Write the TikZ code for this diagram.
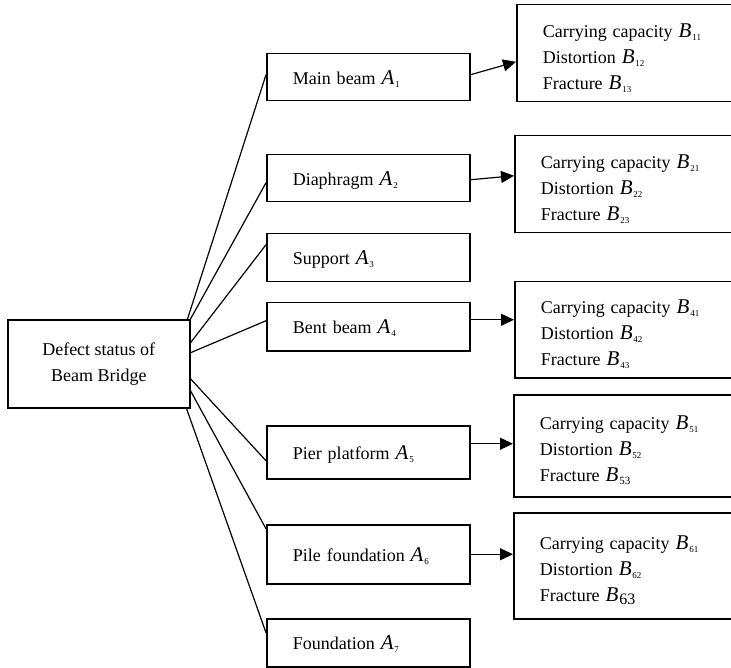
\documentclass[tikz,border=0pt]{standalone}
\usepackage{fontspec}
\setmainfont{Liberation Serif}
\usepackage{tikz}
\usetikzlibrary{arrows.meta,positioning,calc}
% italic letter with a small, lowered index
\newcommand\sym[3][4.5]{{\fontsize{10.5}{13}\selectfont\itshape #2}\kern0.4pt\raisebox{-1.5pt}{\fontsize{#1}{#1}\selectfont #3}}
\tikzset{
	status box/.style={draw, line width=0.75pt, anchor=north west, align=center,
		minimum width=91pt, minimum height=44pt, inner sep=0pt},
	part box/.style={draw, line width=0.75pt, anchor=north west, align=left,
		text width=75.5pt, inner xsep=13pt, inner ysep=0pt,
		text height=7pt, text depth=0pt, minimum height=#1},
	defect box/.style={draw, line width=0.75pt, anchor=north west, align=left,
		text width=100pt, inner xsep=13pt, inner ysep=0pt,
		text height=12pt, text depth=28pt, minimum height=#1},
	link/.style={line width=0.6pt},
	ar/.style={line width=0.6pt, -{Triangle[length=6.5pt,width=6pt]}}
}
\begin{document}
\begin{tikzpicture}[x=0.5pt,y=-0.5pt,every node/.style={font=\fontsize{9}{13}\selectfont}]
	\useasboundingbox (0,0) rectangle (731,667);
	\clip (0,0) rectangle (731,667);
	\node [status box] (root) at (7,319) {Defect status of\\Beam Bridge};
	\node [part box=23.5pt] (A1) at (266,53) {Main beam \sym{A}{1}};
	\node [part box=23.5pt] (A2) at (266,154) {Diaphragm \sym{A}{2}};
	\node [part box=24pt] (A3) at (266,233) {Support \sym{A}{3}};
	\node [part box=24pt] (A4) at (266,302) {Bent beam \sym{A}{4}};
	\node [part box=26.5pt] (A5) at (266,425) {Pier platform \sym{A}{5}};
	\node [part box=29.5pt] (A6) at (266,524) {Pile foundation \sym{A}{6}};
	\node [part box=24pt] (A7) at (266,618) {Foundation \sym{A}{7}};
	\node [defect box=48.5pt] (B1) at (516,4) {Carrying capacity \sym{B}{11}\\Distortion \sym{B}{12}\\Fracture \sym{B}{13}};
	\node [defect box=48.5pt] (B2) at (514,135) {Carrying capacity \sym{B}{21}\\Distortion \sym{B}{22}\\Fracture \sym{B}{23}};
	\node [defect box=48pt] (B4) at (514,281) {Carrying capacity \sym{B}{41}\\Distortion \sym{B}{42}\\Fracture \sym{B}{43}};
	\node [defect box=51pt] (B5) at (513,394) {Carrying capacity \sym{B}{51}\\Distortion \sym{B}{52}\\Fracture \sym[5.5]{B}{53}};
	\node [defect box=53pt] (B6) at (513,512) {Carrying capacity \sym{B}{61}\\Distortion \sym{B}{62}\\Fracture \sym[8]{B}{63}};
	\draw [link] ([xshift=-1.5pt]root.north east) -- ([yshift=1.25pt]A1.west);
	\draw [link] (root.north east) -- ([yshift=-2.25pt]A2.west);
	\draw [link] ([yshift=10.5pt]root.east) -- ([yshift=6.5pt]A3.west);
	\draw [link] ([yshift=5.5pt]root.east) -- ([yshift=3pt]A4.west);
	\draw [link] ([yshift=-7.5pt]root.east) -- ([yshift=-4.25pt]A5.west);
	\draw [link] ([yshift=-13.5pt]root.east) -- ([yshift=12.75pt]A6.west);
	\draw [link] ([xshift=-2pt]root.south east) -- ([yshift=5pt]A7.west);
	\draw [ar] ([yshift=1.25pt]A1.east) -- ([yshift=-4.25pt]B1.west);
	\draw [ar] ([yshift=-0.75pt]A2.east) -- ([yshift=4.25pt]B2.west);
	\draw [ar] ([yshift=3.5pt]A4.east) -- ([yshift=5pt]B4.west);
	\draw [ar] ([yshift=4.25pt]A5.east) -- ([yshift=1pt]B5.west);
	\draw [ar] (A6.east) -- ([yshift=5.75pt]B6.west);
\end{tikzpicture}
\end{document}
